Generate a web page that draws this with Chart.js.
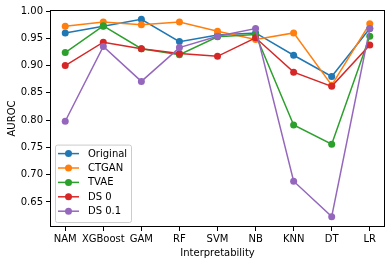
<!DOCTYPE html>
<html><head><meta charset="utf-8">
<script src="https://cdn.jsdelivr.net/npm/chart.js@4"></script>
<style>html,body{margin:0;padding:0;background:#fff}#wrap{width:392px;height:265px}</style>
</head><body><div id="wrap"><canvas id="c" width="392" height="265"></canvas></div>
<script>
const categories = ['NAM','XGBoost','GAM','RF','SVM','NB','KNN','DT','LR'];
const seriesNames = ['Original','CTGAN','TVAE','DS 0','DS 0.1'];
const original = [0.960,0.972,0.985,0.944,0.956,0.960,0.919,0.880,0.968];
const ctgan    = [0.972,0.980,0.975,0.980,0.963,0.948,0.960,0.864,0.977];
const tvae     = [0.924,0.973,0.931,0.920,0.953,0.957,0.791,0.756,0.954];
const ds0      = [0.900,0.943,0.931,0.922,0.917,0.951,0.888,0.862,0.938];
const ds01     = [0.798,0.935,0.871,0.933,0.954,0.968,0.688,0.623,0.968];
const yTicks   = [0.65,0.70,0.75,0.80,0.85,0.90,0.95,1.00];
const colors   = ['#1f77b4','#ff7f0e','#2ca02c','#d62728','#9467bd'];
const allSeries = [original, ctgan, tvae, ds0, ds01];

const FONT = {family:'DejaVu Sans', size:10};

const datasets = allSeries.map((vals,i)=>({
  label: seriesNames[i],
  data: vals.map((v,j)=>({x:j,y:v})),
  borderColor: colors[i],
  backgroundColor: colors[i],
  borderWidth: 1.5,
  pointRadius: 3.5,
  pointBorderWidth: 0,
  pointBackgroundColor: colors[i],
  tension: 0,
  order: 4 - i
}));

const framePlugin = {
  id:'frame',
  afterDraw(chart){
    const ctx = chart.ctx, a = chart.chartArea;
    ctx.save();
    ctx.strokeStyle = '#000';
    ctx.lineWidth = 1;
    ctx.strokeRect(Math.round(a.left)+0.5, Math.round(a.top)+0.5, Math.round(a.right-a.left)-1, Math.round(a.bottom-a.top)-1);
    // legend
    const ds = chart.data.datasets;
    const lx = a.left + 5, rowH = 14.4, h = ds.length*rowH + 5.4, w = 76;
    const ly = a.bottom - 5 - h;
    ctx.fillStyle = 'rgba(255,255,255,0.8)';
    ctx.strokeStyle = '#cccccc';
    ctx.beginPath();
    if (ctx.roundRect) ctx.roundRect(lx+0.5, ly+0.5, w, h, 2); else ctx.rect(lx+0.5, ly+0.5, w, h);
    ctx.fill(); ctx.stroke();
    ctx.font = '10px "DejaVu Sans"';
    ctx.textBaseline = 'middle';
    ds.forEach((d,i)=>{
      const y = ly + 9 + i*rowH;
      ctx.strokeStyle = d.borderColor; ctx.lineWidth = 1.5;
      ctx.beginPath(); ctx.moveTo(lx+3, y); ctx.lineTo(lx+24, y); ctx.stroke();
      ctx.fillStyle = d.borderColor;
      ctx.beginPath(); ctx.arc(lx+13.5, y, 3.5, 0, Math.PI*2); ctx.fill();
      ctx.fillStyle = '#000';
      ctx.fillText(d.label, lx+33, y+0.5);
    });
    ctx.restore();
  }
};

new Chart(document.getElementById('c'), {
  type:'line',
  data:{datasets},
  options:{
    responsive:false, animation:false, devicePixelRatio:1,
    layout:{padding:{left:0, right:7, top:10, bottom:0}},
    plugins:{legend:{display:false}, tooltip:{enabled:false}},
    scales:{
      x:{
        type:'linear', min:-0.4, max:8.4,
        afterBuildTicks(s){ s.ticks = categories.map((_,i)=>({value:i})); },
        afterFit(s){ s.height = 38; },
        ticks:{ autoSkip:false, maxRotation:0, padding:2, color:'#000', font:FONT,
          callback:(v)=>categories[v] ?? '' },
        grid:{ drawOnChartArea:false, drawTicks:true, tickLength:4, color:'#000', lineWidth:1 },
        border:{ display:false },
        title:{ display:true, text:'Interpretability', color:'#000', font:FONT, padding:{top:0,bottom:6} }
      },
      y:{
        type:'linear', min:0.604, max:1.002,
        afterBuildTicks(s){ s.ticks = yTicks.map(v=>({value:v})); },
        afterFit(s){ s.width = 50; },
        ticks:{ padding:3, color:'#000', font:FONT, callback:(v)=>Number(v).toFixed(2) },
        grid:{ drawOnChartArea:false, drawTicks:true, tickLength:4, color:'#000', lineWidth:1 },
        border:{ display:false },
        title:{ display:true, text:'AUROC', color:'#000', font:FONT, padding:{top:6,bottom:0} }
      }
    }
  },
  plugins:[framePlugin]
});
</script></body></html>
